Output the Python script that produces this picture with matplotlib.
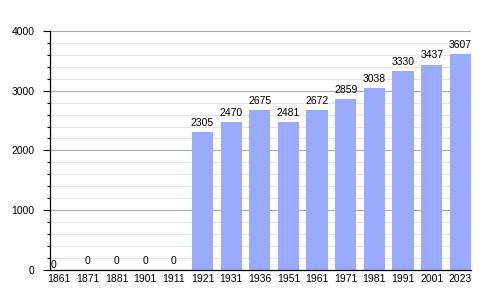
import numpy as np
import matplotlib.pyplot as plt
from matplotlib.ticker import MultipleLocator

years = ["1861", "1871", "1881", "1901", "1911", "1921", "1931", "1936",
         "1951", "1961", "1971", "1981", "1991", "2001", "2023"]
population = [0, 0, 0, 0, 0, 2305, 2470, 2675, 2481, 2672, 2859, 3038, 3330, 3437, 3607]

plt.rcParams['font.family'] = ['Liberation Sans', 'DejaVu Sans']

fig = plt.figure(figsize=(5, 3), dpi=100)
ax = fig.add_axes([0.1, 0.1, 0.842, 0.797])

x = np.arange(len(years))
ax.bar(x, population, width=0.74, color='#99aaff', zorder=3)

for i, v in enumerate(population):
    if i == 0:
        # first label sits low, against the axis
        ax.annotate(str(v), (i - 0.2, v), xytext=(0, 0), textcoords='offset points',
                    ha='center', va='bottom', fontsize=7.5, zorder=4)
    else:
        ax.annotate(str(v), (i, v), xytext=(0, 3), textcoords='offset points',
                    ha='center', va='bottom', fontsize=7.5, zorder=4)

ax.set_xlim(-0.32, 14.37)
ax.set_ylim(0, 4000)
ax.set_xticks(x)
ax.set_xticklabels(years)
ax.yaxis.set_major_locator(MultipleLocator(1000))
ax.yaxis.set_minor_locator(MultipleLocator(200))

ax.grid(axis='y', which='major', color='#aaaaaa', linewidth=0.8, zorder=1)
ax.grid(axis='y', which='minor', color='#e4e4e4', linewidth=0.8, zorder=0)

ax.tick_params(axis='x', length=0, pad=3, labelsize=7.5)
ax.tick_params(axis='y', which='major', length=5, width=0.8, pad=6, labelsize=7.5)
ax.tick_params(axis='y', which='minor', length=2.5, width=0.8)

for s in ['top', 'right']:
    ax.spines[s].set_visible(False)
ax.spines['left'].set_linewidth(0.9)
ax.spines['bottom'].set_linewidth(0.9)
ax.spines['left'].set_zorder(5)
ax.spines['bottom'].set_zorder(5)

fig.savefig("out.png", dpi=100)
